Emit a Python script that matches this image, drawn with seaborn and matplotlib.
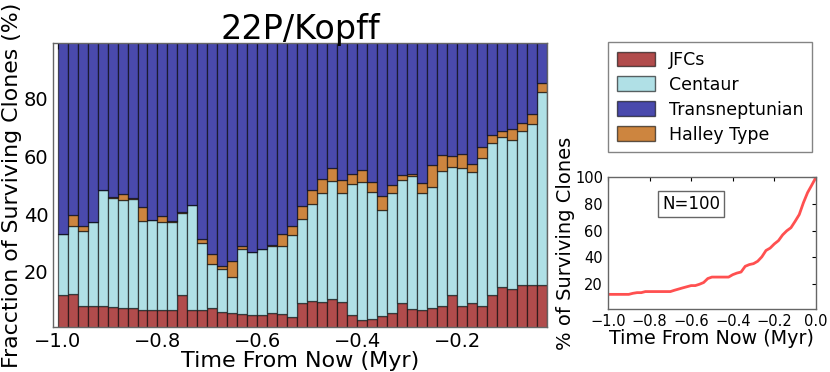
import numpy as np
import pandas as pd
import matplotlib
matplotlib.use("Agg")
import matplotlib.pyplot as plt
import matplotlib.patches as mpatches
import seaborn as sns

# percentage of surviving clones in each 0.02 Myr bin, bottom to top of the stack
jfc = [12.2, 12.5, 8.3, 8.2, 8.2, 7.8, 7.6, 7.4, 7.0, 7.0, 7.0, 7.0, 11.9, 7.0, 6.7, 7.7,
       6.1, 5.7, 5.5, 5.1, 5.0, 6.0, 5.6, 4.3, 9.4, 10.1, 9.8, 10.5, 9.6, 5.0, 3.3, 3.6,
       4.7, 5.9, 9.4, 7.3, 7.0, 7.6, 8.4, 11.9, 8.4, 9.4, 8.4, 12.0, 14.7, 14.0, 15.6, 15.6, 15.6]
centaur = [21.0, 23.4, 25.8, 29.2, 40.2, 37.6, 37.3, 37.7, 30.5, 31.0, 30.1, 30.1, 28.6, 36.0, 23.2, 14.9,
           14.9, 12.6, 22.4, 21.8, 22.9, 23.0, 23.3, 28.5, 29.0, 33.5, 37.6, 40.9, 37.5, 45.5, 47.8, 43.9,
           36.8, 41.5, 42.2, 45.9, 40.4, 41.9, 46.5, 44.3, 47.6, 45.0, 51.0, 52.6, 52.0, 51.6, 53.1, 55.6, 66.7]
halley = [0.0, 3.8, 1.9, 0.0, 0.0, 0.6, 1.9, 0.3, 5.1, 0.0, 2.1, 0.5, 0.3, 0.0, 1.4, 3.5,
          1.2, 5.5, 1.1, 0.0, 0.0, 0.3, 4.3, 3.1, 4.5, 4.8, 4.8, 4.5, 4.5, 3.3, 4.1, 3.5,
          4.8, 2.7, 2.0, 0.7, 3.3, 7.4, 5.6, 4.0, 4.7, 2.8, 3.7, 2.7, 1.8, 3.7, 2.8, 3.2, 2.9]
transnep = [66.8, 60.3, 64.0, 62.6, 51.6, 54.0, 53.2, 54.6, 57.4, 62.0, 60.8, 62.4, 59.2, 57.0, 68.7, 73.9,
            77.8, 76.2, 71.0, 73.1, 72.1, 70.7, 66.8, 64.1, 57.1, 51.6, 47.8, 44.1, 48.4, 46.2, 44.8, 49.0,
            53.7, 49.9, 46.4, 46.1, 49.3, 43.1, 39.5, 39.8, 39.3, 42.8, 36.9, 32.7, 31.5, 30.7, 28.5, 25.6, 14.8]

bin_edges = np.linspace(-1.0, -0.02, 50)
bin_mid = (bin_edges[:-1] + bin_edges[1:]) / 2

# total surviving clones vs time
surv_time = [-1.0, -0.9, -0.88, -0.86, -0.84, -0.82, -0.8, -0.7, -0.68, -0.64, -0.6, -0.58, -0.56,
             -0.54, -0.52, -0.5, -0.46, -0.42, -0.4, -0.38, -0.36, -0.34, -0.32, -0.3, -0.28, -0.26,
             -0.24, -0.22, -0.2, -0.18, -0.16, -0.14, -0.12, -0.1, -0.08, -0.06, -0.04, -0.02, 0.0]
surv_pct = [12.1, 12.1, 12.9, 13.4, 13.4, 14.2, 14.2, 14.2, 15.2, 17.0, 18.7, 18.7, 19.7,
            21.0, 24.0, 25.1, 25.1, 25.1, 26.9, 28.1, 28.9, 33.2, 34.5, 35.2, 37.0, 40.3,
            45.1, 46.9, 50.0, 52.5, 56.8, 59.9, 62.2, 67.0, 72.1, 81.0, 88.6, 94.2, 100.0]

names = ["JFCs", "Centaur", "Transneptunian", "Halley Type"]
colors = {"JFCs": "#b14c4c", "Centaur": "#b0e0e6",
          "Transneptunian": "#4a4aad", "Halley Type": "#cd853f"}

rows = []
for name, vals in [("JFCs", jfc), ("Centaur", centaur), ("Halley Type", halley), ("Transneptunian", transnep)]:
    for t, v in zip(bin_mid, vals):
        rows.append({"time": t, "pct": v, "type": name})
df = pd.DataFrame(rows)

sns.set_style("white")
plt.rcParams["font.family"] = ["DejaVu Sans"]
plt.rcParams.update({"text.color": "black", "axes.labelcolor": "black",
                     "xtick.color": "black", "ytick.color": "black"})

fig = plt.figure(figsize=(8.3, 3.72), dpi=100)
ax = fig.add_axes([0.064, 0.121, 0.595, 0.763])
ax2 = fig.add_axes([0.7325, 0.169, 0.2505, 0.354])

stack_order = ["Transneptunian", "Halley Type", "Centaur", "JFCs"]
sns.histplot(data=df, x="time", weights="pct", hue="type", hue_order=stack_order,
             multiple="stack", binwidth=0.02, binrange=(-1.0, -0.02), palette=colors, alpha=1,
             edgecolor=(0, 0, 0, 0.6), linewidth=0.9, legend=False, ax=ax)

ax.set_xlim(-1.009, -0.02)
ax.set_ylim(1, 99)
ax.set_xticks([-1.0, -0.8, -0.6, -0.4, -0.2])
ax.set_yticks([20, 40, 60, 80])
ax.set_title("22P/Kopff", fontsize=24, pad=3)
ax.set_xlabel("Time From Now (Myr)", fontsize=16, labelpad=0)
ax.set_ylabel("Fracction of Surviving Clones (%)", fontsize=15.8, labelpad=1)
ax.tick_params(labelsize=14, direction="in", top=True, right=True, length=4, width=0.8)

sns.lineplot(x=surv_time, y=surv_pct, color="#ff5050", linewidth=2, ax=ax2)
ax2.set_xlim(-1.0, 0.0)
ax2.set_ylim(1, 100)
ax2.set_xticks([-1.0, -0.8, -0.6, -0.4, -0.2, 0.0])
ax2.set_yticks([20, 40, 60, 80, 100])
ax2.set_xlabel("Time From Now (Myr)", fontsize=13.8, labelpad=0)
ax2.set_ylabel("% of Surviving Clones", fontsize=14, labelpad=0)
ax2.tick_params(labelsize=10.5, direction="in", top=True, right=True, length=3, width=0.8)
ax2.text(-0.6, 80, "N=100", fontsize=12, ha="center", va="center",
         bbox=dict(facecolor="white", edgecolor="0.4", boxstyle="square,pad=0.25"))

for a in (ax, ax2):
    for s in a.spines.values():
        s.set_color("0.4")
        s.set_linewidth(1)

handles = [mpatches.Patch(facecolor=colors[n], edgecolor=(0, 0, 0, 0.6), label=n) for n in names]
fig.legend(handles=handles, loc="upper left", bbox_to_anchor=(0.7325, 0.887),
           borderaxespad=0, fontsize=12.5, frameon=True, fancybox=False, edgecolor="0.4",
           handlelength=2.2, handleheight=0.9, borderpad=0.5, labelspacing=0.4)

fig.savefig("out.png", dpi=100)
